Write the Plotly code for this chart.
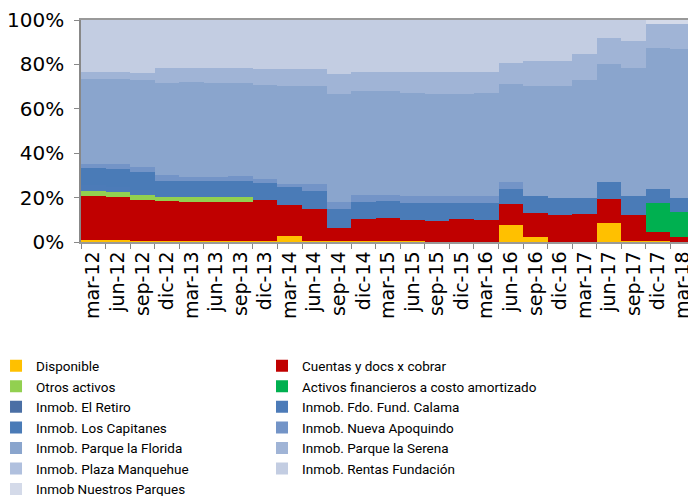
import plotly.graph_objects as go

categories = ["mar-12", "jun-12", "sep-12", "dic-12", "mar-13", "jun-13", "sep-13", "dic-13",
              "mar-14", "jun-14", "sep-14", "dic-14", "mar-15", "jun-15", "sep-15", "dic-15",
              "mar-16", "jun-16", "sep-16", "dic-16", "mar-17", "jun-17", "sep-17", "dic-17", "mar-18"]

disponible = [0.9, 0.9, 0.6, 0.5, 0.3, 0.3, 0.3, 0.3, 2.8, 0.5, 0.3, 0.3, 0.4, 0.3, 0.2, 0.2,
              0.2, 7.7, 2.3, 0.2, 0.2, 8.4, 0.6, 0.3, 0.2]
cuentas = [20.0, 19.4, 18.3, 18.0, 17.9, 17.9, 17.9, 18.8, 14.0, 14.5, 6.0, 10.2, 10.3, 9.7, 9.4, 10.2,
           9.8, 9.6, 10.6, 11.8, 12.3, 10.8, 11.4, 4.3, 2.2]
otros_activos = [2.1, 2.2, 2.1, 1.8, 1.9, 1.9, 1.9, 0, 0, 0, 0, 0, 0, 0, 0, 0,
                 0, 0, 0, 0, 0, 0, 0, 0, 0]
activos_fin = [0, 0, 0, 0, 0, 0, 0, 0, 0, 0, 0, 0, 0, 0, 0, 0,
               0, 0, 0, 0, 0, 0, 0, 13.0, 11.0]
el_retiro = [0] * 25
calama = [2.7, 2.1, 2.3, 0.3, 0, 0, 0, 0, 0, 0, 0, 0, 0, 0, 0, 0,
          0, 0, 0, 0, 0, 0, 0, 0, 0]
los_capitanes = [7.5, 8.3, 8.2, 7.0, 7.5, 7.6, 7.5, 7.6, 7.8, 8.1, 8.7, 7.7, 7.6, 7.7, 7.8, 7.3,
                 7.7, 6.7, 7.8, 7.7, 7.5, 7.7, 8.6, 6.3, 6.6]
nueva_apoquindo = [1.9, 2.1, 2.1, 2.4, 1.8, 1.8, 2.0, 1.6, 1.7, 2.9, 2.9, 2.8, 2.7, 2.9, 3.2, 2.9,
                   2.9, 3.0, 0, 0, 0, 0, 0, 0, 0]
parque_florida = [38.3, 38.4, 39.5, 41.8, 42.5, 42.0, 42.2, 42.3, 44.1, 44.4, 48.9, 46.8, 47.0, 46.5,
                  45.9, 46.1, 46.4, 44.0, 49.7, 50.7, 52.8, 53.1, 57.7, 63.3, 66.8]
parque_serena = [3.3, 3.3, 2.9, 6.6, 6.5, 6.9, 6.6, 7.5, 7.7, 7.7, 9.0, 8.9, 8.7, 9.6, 10.2, 10.0,
                 9.7, 9.6, 11.1, 11.1, 12.0, 12.0, 12.1, 11.0, 11.4]
plaza_manquehue = [0] * 25
rentas_fundacion = [23.3, 23.3, 24.0, 21.6, 21.6, 21.6, 21.6, 21.9, 21.9, 21.9, 24.2, 23.3, 23.3, 23.3,
                    23.3, 23.3, 23.3, 19.4, 18.5, 18.5, 15.2, 8.0, 9.6, 0, 0]
nuestros_parques = [0] * 23 + [1.8, 1.8]

series = [
    ("Disponible", disponible, "#FFC000"),
    ("Cuentas y docs x cobrar", cuentas, "#C00000"),
    ("Otros activos", otros_activos, "#92D050"),
    ("Activos financieros a costo amortizado", activos_fin, "#00B050"),
    ("Inmob. El Retiro", el_retiro, "#4A6FA5"),
    ("Inmob. Fdo. Fund. Calama", calama, "#4C7BB8"),
    ("Inmob. Los Capitanes", los_capitanes, "#4A7BB7"),
    ("Inmob. Nueva Apoquindo", nueva_apoquindo, "#7394C7"),
    ("Inmob. Parque la Florida", parque_florida, "#8AA5CD"),
    ("Inmob. Parque la Serena", parque_serena, "#A0B4D6"),
    ("Inmob. Plaza Manquehue", plaza_manquehue, "#B0C0DE"),
    ("Inmob. Rentas Fundación", rentas_fundacion, "#C3CDE2"),
    ("Inmob Nuestros Parques", nuestros_parques, "#D4DAE9"),
]

fig = go.Figure()
for k, (name, vals, color) in enumerate(series):
    fig.add_trace(go.Bar(x=categories, y=vals, name=name, marker=dict(color=color, line=dict(width=0)),
                         width=1.0, legend="legend" if k % 2 == 0 else "legend2"))

legend_font = dict(family="Roboto, sans-serif", size=13.5, color="#000000")
common_legend = dict(orientation="v", yanchor="top", xanchor="left", font=legend_font,
                     traceorder="normal", itemclick=False, tracegroupgap=0,
                     bgcolor="rgba(0,0,0,0)")

# page body has an 8px margin, so the figure is 8px smaller than the window
fig.update_layout(
    width=688, height=488, autosize=False,
    barmode="stack", bargap=0,
    margin=dict(l=73, r=1, t=12, b=254, autoexpand=False),
    plot_bgcolor="white", paper_bgcolor="white",
    font=dict(family="DejaVu Sans", color="#000000"),
    showlegend=True,
    legend=dict(x=-0.1384, y=-0.4887, **common_legend),
    legend2=dict(x=0.2948, y=-0.4887, **common_legend),
)
fig.update_yaxes(range=[0, 100], dtick=20, ticksuffix="%", showgrid=True, gridcolor="#A6A6A6",
                 showline=True, linecolor="#888888", linewidth=1.5, ticks="outside", ticklen=5,
                 tickcolor="#888888", tickfont=dict(size=20, family="DejaVu Sans"), zeroline=False,
                 automargin=False, ticklabelstandoff=6)
fig.update_xaxes(type="category", tickangle=-90, showline=True, mirror=True, linecolor="#999999",
                 linewidth=1.5, ticks="outside", ticklen=5, tickcolor="#888888", tickson="boundaries",
                 tickfont=dict(size=19, family="DejaVu Sans"), range=[-0.5, 24.5], automargin=False)

fig.write_html("out.html")
